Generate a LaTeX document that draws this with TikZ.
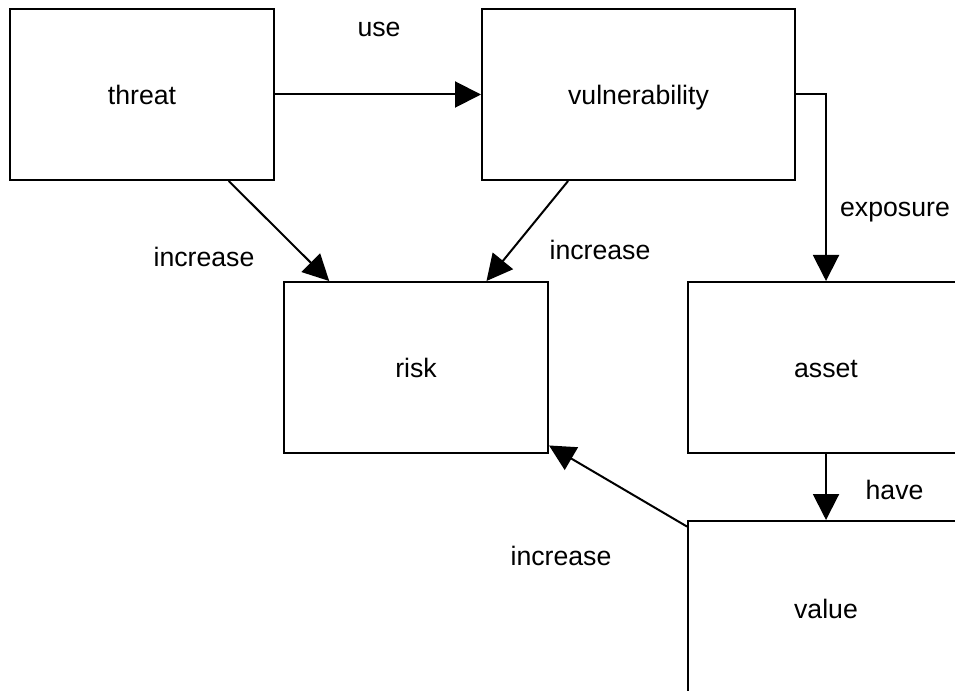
\documentclass[tikz,border=0pt]{standalone}
\usepackage{fontspec}
\setmainfont{Liberation Sans}
\usetikzlibrary{arrows.meta,positioning}

\begin{document}
\begin{tikzpicture}[x=0.75pt,y=-0.75pt,line width=1.5pt,
    font=\fontsize{20}{24}\selectfont,
    >={Triangle[length=19.5pt,width=19.5pt]},
    box/.style={draw,rectangle,minimum width=198pt,minimum height=128.25pt,inner sep=0pt,
        text height=15pt,text depth=0pt},
    lbl/.style={inner sep=0pt,anchor=base}]
    \useasboundingbox (0,0) rectangle (955,691);
    \clip (0,0) rectangle (955,691);
    %boxes
    \node[box] (threat) at (142,94.5) {threat};
    \node[box,minimum width=234.75pt] (vuln) at (638.5,94.5) {vulnerability};
    \node[box] (risk) at (416,367.5) {risk};
    \node[box,minimum width=207pt] (asset) at (826,367.5) {asset};
    \node[box,minimum width=207pt,minimum height=130.5pt] (value) at (826,608) {value};
    %labels
    \node[lbl] (use) at (379,37) {use};
    \node[lbl] (incthreat) at (204,266.5) {increase};
    \node[lbl] (incvuln) at (600,260) {increase};
    \node[lbl] (exposure) at (895,217) {exposure};
    \node[lbl] (have) at (894.5,499) {have};
    \node[lbl] (incvalue) at (561,565.5) {increase};
    %edges
    \draw[->] (threat) -- (vuln);
    \draw[->] (threat) -- (risk);
    \draw[->] (vuln) -- (risk);
    \draw[->] (vuln.east) -| (asset.north);
    \draw[->] (asset.south) -- (asset.south |- value.north);
    \draw[->] (value) -- (risk);
\end{tikzpicture}
\end{document}
